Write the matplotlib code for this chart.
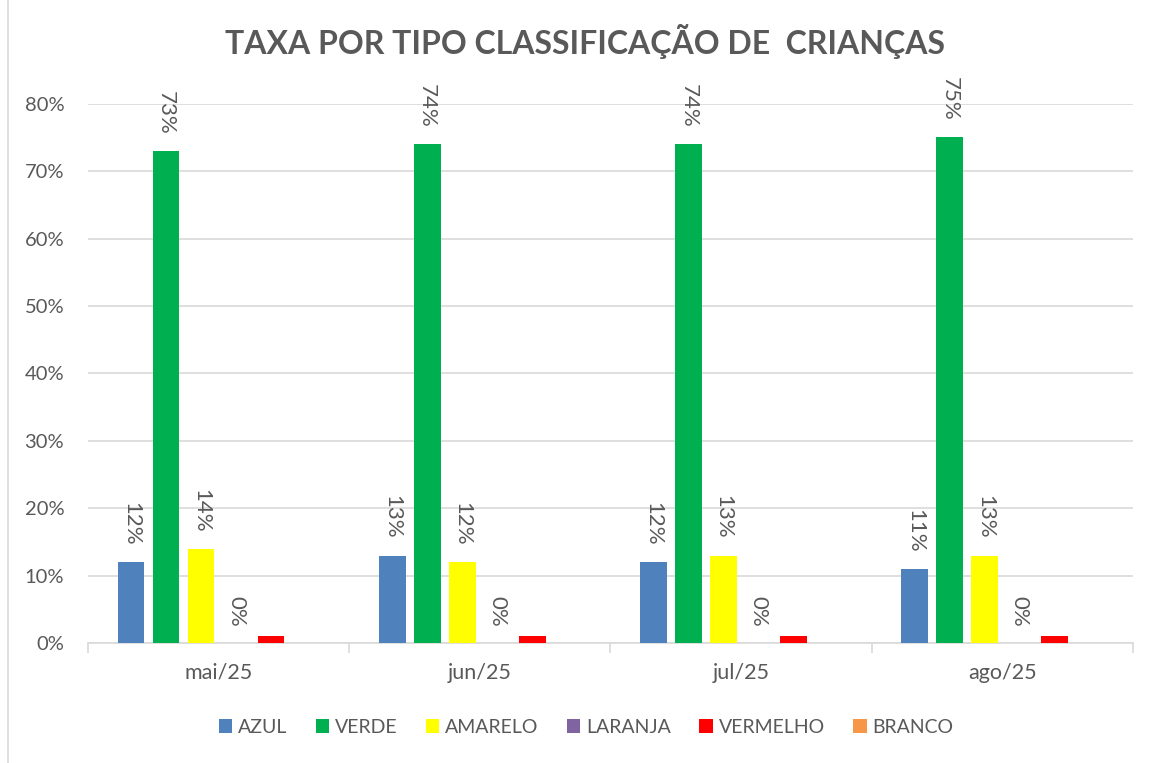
import numpy as np
import matplotlib.pyplot as plt
from matplotlib.lines import Line2D

categories = ['mai/25', 'jun/25', 'jul/25', 'ago/25']
series_names = ['AZUL', 'VERDE', 'AMARELO', 'LARANJA', 'VERMELHO', 'BRANCO']
series_colors = ['#4F81BD', '#00B050', '#FFFF00', '#8064A2', '#FF0000', '#F79646']
azul = [0.12, 0.13, 0.12, 0.11]
verde = [0.73, 0.74, 0.74, 0.75]
amarelo = [0.14, 0.12, 0.13, 0.13]
laranja = [0.0, 0.0, 0.0, 0.0]
vermelho = [0.01, 0.01, 0.01, 0.01]
branco = [0.0, 0.0, 0.0, 0.0]
values = [azul, verde, amarelo, laranja, vermelho, branco]
# which series get data labels in the original
labeled = ['AZUL', 'VERDE', 'AMARELO', 'LARANJA']

plt.rcParams['font.family'] = ['Lato', 'DejaVu Sans']
TXT = '#595959'

fig = plt.figure(figsize=(11.56, 7.63), dpi=100)
ax = fig.add_axes([0.076, 0.157, 0.904, 0.707])

x = np.arange(len(categories))
step = 0.134
width = 0.103
for i, (name, vals, col) in enumerate(zip(series_names, values, series_colors)):
    pos = x + (i - 2.5) * step
    ax.bar(pos, vals, width=width, color=col, label=name, zorder=3)
    if name in labeled:
        for px, v in zip(pos, vals):
            ax.annotate(f'{v:.0%}', (px, v), xytext=(0, 12), textcoords='offset points',
                        rotation=270, ha='center', va='bottom', fontsize=16, color=TXT)

ax.set_xlim(-0.5, len(categories) - 0.5)
ax.set_ylim(0, 0.8)
ax.set_yticks(np.arange(0, 0.81, 0.1))
ax.set_yticklabels([f'{t:.0%}' for t in np.arange(0, 0.81, 0.1)])
ax.set_xticks(x)
ax.set_xticklabels(categories)
ax.tick_params(axis='y', length=0, labelsize=14.5, labelcolor=TXT, pad=17)
ax.tick_params(axis='x', length=0, labelsize=15.5, labelcolor=TXT, pad=14)
ax.set_xticks(np.arange(-0.5, len(categories)), minor=True)
ax.tick_params(axis='x', which='minor', length=7, color='#D9D9D9', width=1.2)
ax.grid(axis='y', color='#D9D9D9', linewidth=1.2, zorder=0)
for s in ['top', 'right', 'left']:
    ax.spines[s].set_visible(False)
ax.spines['bottom'].set_color('#D9D9D9')
ax.spines['bottom'].set_linewidth(1.2)

fig.suptitle('TAXA POR TIPO CLASSIFICAÇÃO DE  CRIANÇAS', x=0.506, y=0.968,
             fontsize=23, fontweight='bold', color=TXT)

fig.legend(loc='center', bbox_to_anchor=(0.507, 0.047), ncol=6, frameon=False,
           fontsize=14, labelcolor=TXT, handlelength=0.7, handleheight=0.7,
           handletextpad=0.3, columnspacing=1.45)

fig.add_artist(Line2D([0.007, 0.007], [0, 1], transform=fig.transFigure, color='#D9D9D9', lw=1.2))

fig.savefig('out.png', dpi=100, facecolor='white')
